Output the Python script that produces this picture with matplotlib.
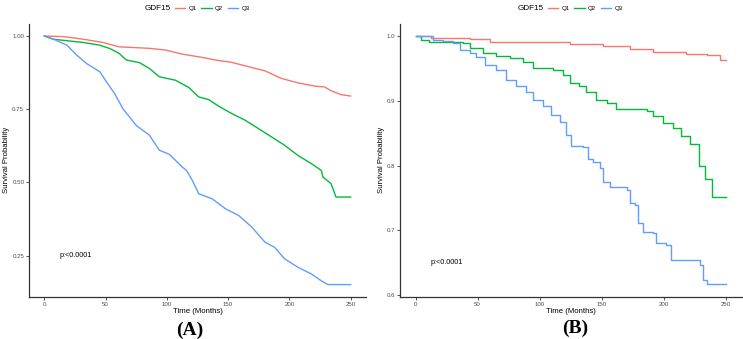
import matplotlib

matplotlib.use("Agg")
import matplotlib.pyplot as plt
from matplotlib.lines import Line2D
from matplotlib.ticker import FormatStrFormatter

plt.rcParams["font.family"] = ["Liberation Sans", "DejaVu Sans"]

groups = ["Q1", "Q2", "Q3"]
colors = ["#F8766D", "#00BA38", "#619CFF"]

# Panel A: Kaplan-Meier curves (months, survival)
a_q1_t = [0, 15.6, 31.8, 48, 61, 85.8, 99, 112.7, 126, 139.7, 153, 164, 180,
          193.6, 207, 220.6, 228.7, 234, 242, 250]
a_q1_s = [1, 0.998, 0.989, 0.978, 0.963, 0.958, 0.952, 0.938, 0.929, 0.918,
          0.91, 0.898, 0.881, 0.855, 0.84, 0.829, 0.826, 0.813, 0.80, 0.795]
a_q2_t = [0, 7.5, 18.3, 31.8, 45, 53, 61, 66.9, 77.7, 85.8, 93.8, 107, 118,
          126, 134, 142.4, 153, 164, 174.7, 185.5, 196, 207, 218, 226, 227.4,
          234, 238, 250]
a_q2_s = [1, 0.989, 0.984, 0.978, 0.969, 0.958, 0.941, 0.918, 0.909, 0.889,
          0.861, 0.849, 0.824, 0.792, 0.783, 0.760, 0.735, 0.712, 0.684, 0.655,
          0.627, 0.592, 0.564, 0.541, 0.518, 0.496, 0.45, 0.45]
a_q3_t = [0, 7.5, 18.3, 26.4, 34.5, 45.3, 50.6, 57.3, 64.1, 74.9, 85.8, 93.8,
          102, 112.7, 116, 120.8, 126, 137, 147.8, 158.6, 169.4, 180, 188, 196,
          207, 218, 226, 231.4, 250]
a_q3_s = [1, 0.989, 0.969, 0.935, 0.906, 0.878, 0.844, 0.804, 0.752, 0.695,
          0.661, 0.610, 0.596, 0.552, 0.541, 0.507, 0.461, 0.444, 0.41, 0.387,
          0.347, 0.296, 0.278, 0.239, 0.21, 0.187, 0.164, 0.151, 0.151]

# Panel B
b_q1_t = [0, 12.6, 43.5, 59.7, 124, 151, 172.6, 191, 218, 235, 245, 250]
b_q1_s = [1, 0.997, 0.995, 0.990, 0.988, 0.985, 0.980, 0.976, 0.973, 0.970,
          0.963, 0.963]
b_q2_t = [0, 4.6, 11, 38, 43.5, 54, 65, 76, 86.6, 94.6, 110.8, 119, 124, 132,
          137.6, 145.7, 153.8, 161.8, 186, 191.4, 199.5, 207.5, 214, 221, 228,
          233, 238.5, 250]
b_q2_s = [1, 0.994, 0.990, 0.989, 0.981, 0.974, 0.969, 0.966, 0.960, 0.950,
          0.948, 0.940, 0.928, 0.923, 0.914, 0.901, 0.896, 0.887, 0.884, 0.876,
          0.866, 0.858, 0.845, 0.833, 0.800, 0.780, 0.752, 0.752]
b_q3_t = [0, 14, 22, 30, 35.5, 43.5, 49, 55.6, 65, 73, 81, 89, 94.6, 102.7,
          109.4, 116, 121.5, 125.5, 135, 139, 143, 148.4, 151, 156.5, 170,
          172.6, 176.6, 179, 183.4, 191.4, 194, 202, 206, 229, 231.8, 234.5,
          250]
b_q3_s = [1, 0.994, 0.992, 0.989, 0.978, 0.974, 0.968, 0.955, 0.948, 0.932,
          0.923, 0.914, 0.901, 0.892, 0.878, 0.868, 0.847, 0.831, 0.829, 0.811,
          0.806, 0.796, 0.775, 0.767, 0.762, 0.742, 0.740, 0.711, 0.698, 0.696,
          0.680, 0.677, 0.655, 0.647, 0.623, 0.617, 0.617]

x_ticks = [0, 50, 100, 150, 200, 250]
a_yticks = [0.25, 0.50, 0.75, 1.00]
b_yticks = [0.6, 0.7, 0.8, 0.9, 1.0]
p_text = "p:<0.0001"
panel_labels = ["(A)", "(B)"]

W, H = 743, 339
fig = plt.figure(figsize=(W / 100, H / 100), dpi=100)
fig.patch.set_facecolor("white")

# panel A has many tiny steps (reads as a jagged line); B has coarse steps
panels = [
    dict(rect=[29, 23.6, 366, 297], curves=[(a_q1_t, a_q1_s), (a_q2_t, a_q2_s),
                                           (a_q3_t, a_q3_s)],
         yticks=a_yticks, fmt="%.2f", pval_y=0.25, label_xy=(190, 330),
         ylab_x=7, leg_x=145, style="default"),
    dict(rect=[400, 23.6, 741.5, 296.7], curves=[(b_q1_t, b_q1_s),
                                                (b_q2_t, b_q2_s),
                                                (b_q3_t, b_q3_s)],
         yticks=b_yticks, fmt="%.1f", pval_y=0.651, label_xy=(575, 328),
         ylab_x=382, leg_x=518, style="steps-post"),
]

grey = "#4D4D4D"
for k, p in enumerate(panels):
    x0, y0, x1, y1 = p["rect"]
    ax = fig.add_axes([x0 / W, 1 - y1 / H, (x1 - x0) / W, (y1 - y0) / H])
    handles = []
    smin = 1.0
    for (t, s), c, g in zip(p["curves"], colors, groups):
        ax.plot(t, s, drawstyle=p["style"], color=c, lw=1.0)
        handles.append(Line2D([], [], color=c, lw=1.0))
        smin = min(smin, min(s))
    pad = (1.0 - smin) * 0.05
    ax.set_ylim(smin - pad, 1.0 + pad)
    ax.set_xlim(-12.5, 262.5)
    ax.set_xticks(x_ticks)
    ax.set_yticks(p["yticks"])
    ax.yaxis.set_major_formatter(FormatStrFormatter(p["fmt"]))
    for side in ("top", "right"):
        ax.spines[side].set_visible(False)
    for side in ("left", "bottom"):
        ax.spines[side].set_color("#333333")
        ax.spines[side].set_linewidth(0.9)
    ax.tick_params(axis="both", length=2, width=0.6, color="#333333",
                   labelsize=4.4, labelcolor=grey, pad=1.5)
    ax.set_xlabel("Time (Months)", fontsize=5.6, labelpad=1)
    ax.text(12, p["pval_y"], p_text, fontsize=5.2, ha="left", va="center")

    fig.text(p["ylab_x"] / W, 1 - (y0 + y1) / 2 / H, "Survival Probability",
             rotation=90, ha="center", va="center", fontsize=5.6)

    # legend: title text plus horizontal keys
    fig.text(p["leg_x"] / W, 1 - 8 / H, "GDF15", fontsize=5.9,
             ha="left", va="center")
    ax.legend(handles, groups, loc="center left",
              bbox_to_anchor=((p["leg_x"] + 30) / W, 1 - 8 / H),
              bbox_transform=fig.transFigure, ncol=3, frameon=False,
              fontsize=4.4, handlelength=1.7, handletextpad=0.5,
              columnspacing=0.8, borderpad=0, borderaxespad=0)

    lx, ly = p["label_xy"]
    fig.text(lx / W, 1 - ly / H, panel_labels[k], fontsize=14,
             fontweight="bold", family=["Liberation Serif", "DejaVu Serif"],
             ha="center", va="center")

fig.savefig("out.png", dpi=100)
